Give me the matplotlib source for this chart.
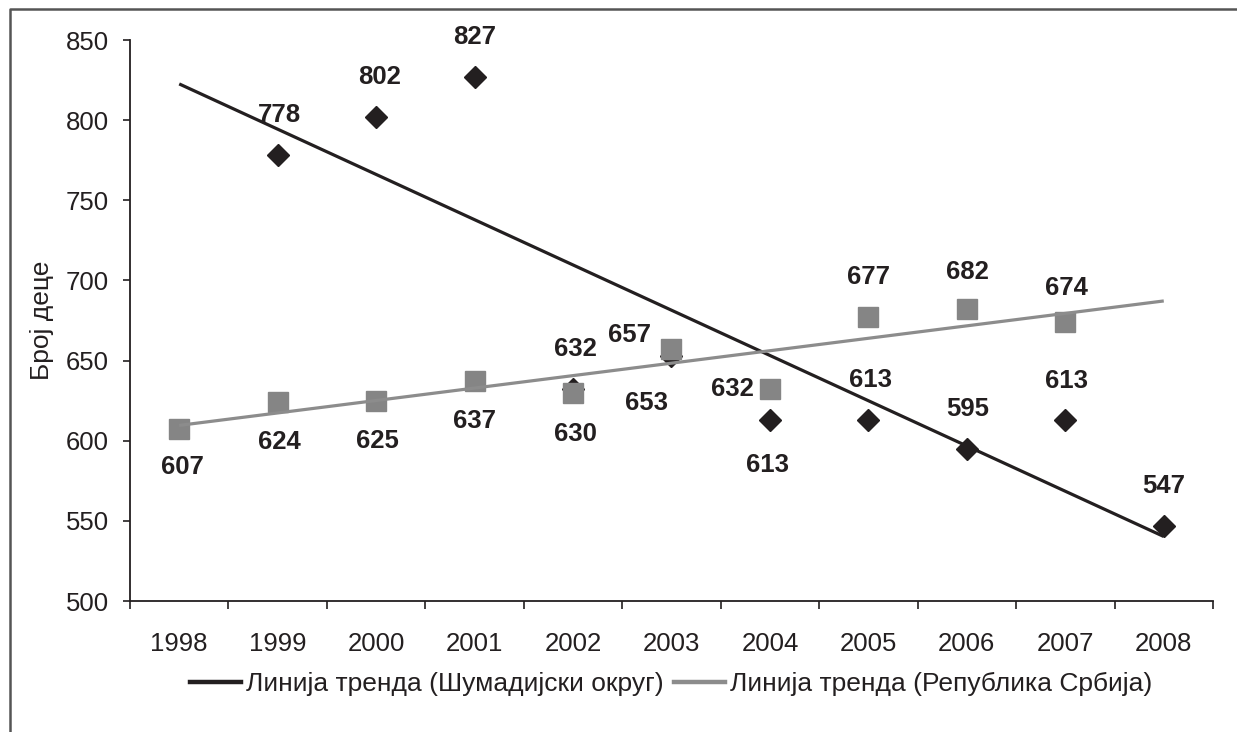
import numpy as np
import matplotlib
matplotlib.use('Agg')
import matplotlib.pyplot as plt
from matplotlib.lines import Line2D

# ---- data ----
years = ['1998', '1999', '2000', '2001', '2002', '2003', '2004', '2005', '2006', '2007', '2008']
sumadija = [np.nan, 778, 802, 827, 632, 653, 613, 613, 595, 613, 547]
srbija = [607, 624, 625, 637, 630, 657, 632, 677, 682, 674, np.nan]
y_ticks = [500, 550, 600, 650, 700, 750, 800, 850]
ylabel = 'Број деце'
legend_labels = ['Линија тренда (Шумадијски округ)', 'Линија тренда (Република Србија)']

# ---- label offsets (pixels) ----
off_sum = [None, (2, 40), (3, 40), (0, 40), (2, 40), (-25, -47), (-2, -45), (2, 40), (1, 40), (1, 39), (0, 40)]
off_srb = [(3, -38), (2, -40), (1, -40), (0, -40), (2, -41), (-42, 14), (-38, 0), (0, 40), (1, 37), (1, 34), None]

plt.rcParams['font.family'] = ['Liberation Sans', 'DejaVu Sans']

W, H = 1237, 732
fig = plt.figure(figsize=(W / 100, H / 100), dpi=100)
ax = fig.add_axes([130 / W, 1 - 601 / H, (1213 - 130) / W, (601 - 40) / H])

x = np.arange(len(years))
s1 = np.array(sumadija, dtype=float)
s2 = np.array(srbija, dtype=float)

black = '#231f20'
gray_m = '#858585'
gray_l = '#8c8c8c'

ax.plot(x, s1, linestyle='none', marker='D', markersize=11, color=black, zorder=3)
ax.plot(x, s2, linestyle='none', marker='s', markersize=15, color=gray_m, zorder=4)

m1 = ~np.isnan(s1)
p1 = np.polyfit(x[m1], s1[m1], 1)
m2 = ~np.isnan(s2)
p2 = np.polyfit(x[m2], s2[m2], 1)
xe = np.array([x[0], x[-1]])
ax.plot(xe, np.polyval(p1, xe), color=black, lw=2.3, zorder=5, solid_capstyle='butt')
ax.plot(xe, np.polyval(p2, xe), color=gray_l, lw=2.3, zorder=5, solid_capstyle='butt')

for xi, v, o in zip(x, s1, off_sum):
    if o is None or np.isnan(v):
        continue
    ax.annotate(f'{int(v)}', (xi, v), xytext=o, textcoords='offset pixels',
                ha='center', va='center', fontsize=18.5, fontweight='bold', color=black, zorder=6)
for xi, v, o in zip(x, s2, off_srb):
    if o is None or np.isnan(v):
        continue
    ax.annotate(f'{int(v)}', (xi, v), xytext=o, textcoords='offset pixels',
                ha='center', va='center', fontsize=18.5, fontweight='bold', color=black, zorder=6)

ax.set_xlim(-0.5, len(years) - 0.5)
ax.set_ylim(y_ticks[0], y_ticks[-1])
ax.set_yticks(y_ticks)
ax.set_xticks(np.arange(-0.5, len(years), 1.0))
ax.set_xticklabels([])
ax.set_xticks(x, minor=True)
ax.set_xticklabels(years, minor=True)
ax.tick_params(axis='x', which='major', direction='out', length=6, width=1.2, color=black)
ax.tick_params(axis='x', which='minor', length=0, pad=22, labelsize=18.5, labelcolor=black)
ax.tick_params(axis='y', direction='out', length=5, width=1.2, color=black, pad=10, labelsize=18.5, labelcolor=black)

for s in ['top', 'right']:
    ax.spines[s].set_visible(False)
for s in ['left', 'bottom']:
    ax.spines[s].set_color(black)
    ax.spines[s].set_linewidth(1.3)

ax.set_ylabel(ylabel, fontsize=19, color=black)
ax.yaxis.set_label_coords(-0.070, 0.5)

handles = [Line2D([], [], color=black, lw=3.2), Line2D([], [], color=gray_l, lw=3.2)]
fig.legend(handles, legend_labels, loc='center', bbox_to_anchor=(671 / W, 1 - 684 / H),
           ncol=2, frameon=False, fontsize=19, handlelength=1.93, handletextpad=0.19,
           columnspacing=0.38, labelcolor=black, borderpad=0, borderaxespad=0)

# outer frame
fig.add_artist(Line2D([10 / W, 10 / W, 1.0], [0.0, 1 - 9 / H, 1 - 9 / H],
                      transform=fig.transFigure, color='#555555', lw=1.8))

fig.savefig('out.png', dpi=100)
